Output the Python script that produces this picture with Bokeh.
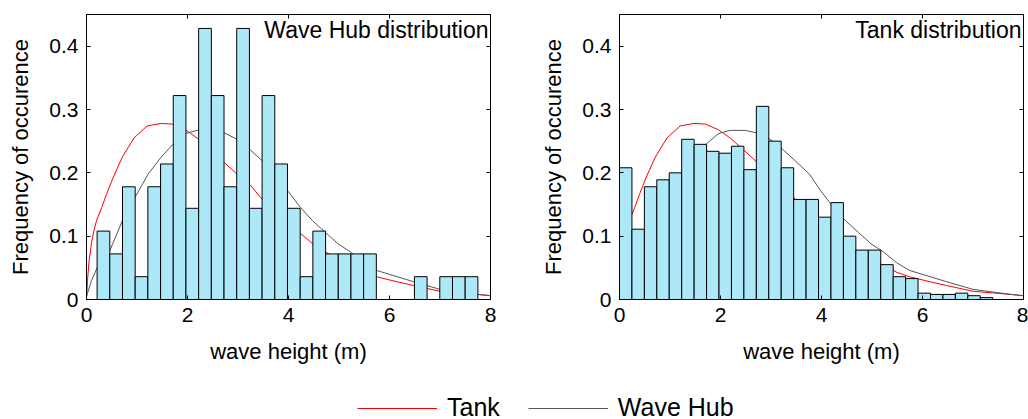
import numpy as np
from bokeh.plotting import figure
from bokeh.models import (Range1d, FixedTicker, LinearAxis, Label, Legend,
                          LegendItem)
from bokeh.layouts import column, row
from bokeh.embed import file_html
from bokeh.resources import INLINE

FONT = "Liberation Sans"

# ---------------- data ----------------
x_ticks = [0, 2, 4, 6, 8]
y_ticks = [0, 0.1, 0.2, 0.3, 0.4]
y_tick_labels = ["0", "0.1", "0.2", "0.3", "0.4"]

hub_hist_range = (0.21, 7.75)
hub_freq = [0.108, 0.072, 0.178, 0.036, 0.178, 0.214, 0.322, 0.144, 0.428, 0.322,
            0.178, 0.428, 0.144, 0.322, 0.214, 0.144, 0.036, 0.108, 0.072, 0.072,
            0.072, 0.072, 0.0, 0.0, 0.0, 0.036, 0.0, 0.036, 0.036, 0.036]

tank_hist_range = (0.0, 7.39)
tank_freq = [0.208, 0.111, 0.178, 0.189, 0.200, 0.253, 0.245, 0.234, 0.231, 0.242,
             0.205, 0.305, 0.250, 0.208, 0.158, 0.158, 0.130, 0.153, 0.100, 0.078,
             0.078, 0.055, 0.036, 0.033, 0.010, 0.008, 0.008, 0.010, 0.006, 0.003]

tank_curve_x = [0.0, 0.02, 0.05, 0.10, 0.15, 0.20, 0.30, 0.40, 0.54, 0.71, 0.94,
                1.20, 1.47, 1.70, 1.96, 2.19, 2.49, 2.73, 2.98, 3.23, 3.48, 3.76,
                3.99, 4.24, 4.48, 4.73, 4.98, 5.23, 5.49, 5.74, 6.15, 6.48, 7.00,
                7.75, 8.00]
tank_curve_y = [0.0, 0.03, 0.06, 0.09, 0.11, 0.125, 0.145, 0.167, 0.195, 0.225, 0.255,
                0.274, 0.278, 0.277, 0.268, 0.255, 0.234, 0.216, 0.198, 0.182, 0.158,
                0.135, 0.119, 0.104, 0.088, 0.075, 0.064, 0.054, 0.043, 0.036, 0.028,
                0.022, 0.013, 0.008, 0.006]

hub_curve_x = [0.0, 0.10, 0.21, 0.46, 0.73, 0.98, 1.22, 1.47, 1.71, 1.96, 2.19,
               2.49, 2.73, 2.98, 3.23, 3.48, 3.76, 3.99, 4.24, 4.48, 4.73, 4.98,
               5.23, 5.49, 5.74, 6.15, 6.48, 7.00, 7.75, 8.00]
hub_curve_y = [0.005, 0.03, 0.05, 0.077, 0.128, 0.164, 0.198, 0.224, 0.245, 0.262,
               0.267, 0.267, 0.263, 0.253, 0.237, 0.219, 0.198, 0.171, 0.145, 0.124,
               0.106, 0.088, 0.075, 0.058, 0.046, 0.036, 0.028, 0.016, 0.008, 0.006]

BAR_COLOR = "#ADE8F8"
TANK_COLOR = "#FF0000"
HUB_COLOR = "#555555"


def style_axis(ax, label=True):
    ax.major_tick_in = 4
    ax.major_tick_out = 0
    ax.minor_tick_line_color = None
    ax.axis_line_color = "black"
    ax.major_tick_line_color = "black"
    ax.major_label_text_font = FONT
    ax.major_label_text_color = "black"
    ax.axis_label_text_font = FONT
    ax.axis_label_text_font_style = "normal"
    ax.axis_label_text_color = "black"
    ax.axis_label_text_font_size = "22px"
    if label:
        ax.major_label_text_font_size = "21px"
    else:
        ax.major_label_text_font_size = "0px"
        ax.major_label_standoff = 0


def panel(title, freq, rng, width, left_border, right_border):
    p = figure(width=width, height=375, x_range=Range1d(0, 8), y_range=Range1d(0, 0.45),
               output_backend="svg", toolbar_location=None,
               min_border_left=left_border, min_border_right=right_border,
               min_border_top=14, min_border_bottom=76)
    p.grid.visible = False
    p.outline_line_color = "black"
    p.background_fill_color = "white"

    p.line(tank_curve_x, tank_curve_y, line_color=TANK_COLOR, line_width=1)
    p.line(hub_curve_x, hub_curve_y, line_color=HUB_COLOR, line_width=1)

    edges = np.linspace(rng[0], rng[1], len(freq) + 1)
    p.quad(left=edges[:-1], right=edges[1:], bottom=0, top=freq,
           fill_color=BAR_COLOR, line_color="black", line_width=1)

    p.xaxis.ticker = FixedTicker(ticks=x_ticks)
    p.yaxis.ticker = FixedTicker(ticks=y_ticks)
    p.yaxis.major_label_overrides = {t: s for t, s in zip(y_ticks, y_tick_labels)}
    p.xaxis.axis_label = "wave height (m)"
    p.yaxis.axis_label = "Frequency of occurence"
    p.xaxis.major_label_standoff = 8
    p.yaxis.major_label_standoff = 8
    p.xaxis.axis_label_standoff = 14
    p.yaxis.axis_label_standoff = 13
    style_axis(p.xaxis[0])
    style_axis(p.yaxis[0])

    top = LinearAxis(ticker=FixedTicker(ticks=x_ticks))
    style_axis(top, label=False)
    p.add_layout(top, "above")
    right = LinearAxis(ticker=FixedTicker(ticks=y_ticks))
    style_axis(right, label=False)
    p.add_layout(right, "right")

    p.add_layout(Label(x=8, y=0.45, x_offset=-2, y_offset=-2, text=title,
                       text_align="right", text_baseline="top",
                       text_font=FONT, text_font_size="23px", text_color="black"))
    return p


p1 = panel("Wave Hub distribution", hub_freq, hub_hist_range, 533, 86, 43)
p2 = panel("Tank distribution", tank_freq, tank_hist_range, 495, 86, 5)

# legend strip: the curves are drawn here outside the visible range, only for
# the legend swatches
leg = figure(width=1028, height=44, output_backend="svg", toolbar_location=None,
             x_axis_location=None, y_axis_location=None, min_border=0,
             x_range=Range1d(0, 8), y_range=Range1d(10, 11))
leg.outline_line_color = None
leg.grid.visible = False
r1 = leg.line(tank_curve_x, tank_curve_y, line_color=TANK_COLOR, line_width=1)
r2 = leg.line(hub_curve_x, hub_curve_y, line_color=HUB_COLOR, line_width=1)
legend = Legend(items=[LegendItem(label="Tank", renderers=[r1]),
                       LegendItem(label="Wave Hub", renderers=[r2])],
                orientation="horizontal", location=(357, -3),
                glyph_width=80, glyph_height=28, label_height=28,
                label_standoff=10, spacing=28, padding=0, margin=0,
                border_line_color=None, background_fill_alpha=0,
                label_text_font=FONT, label_text_font_size="25px",
                label_text_color="black")
leg.add_layout(legend)

layout = column(row(p1, p2), leg)

with open("out.html", "w") as f:
    f.write(file_html(layout, INLINE))
